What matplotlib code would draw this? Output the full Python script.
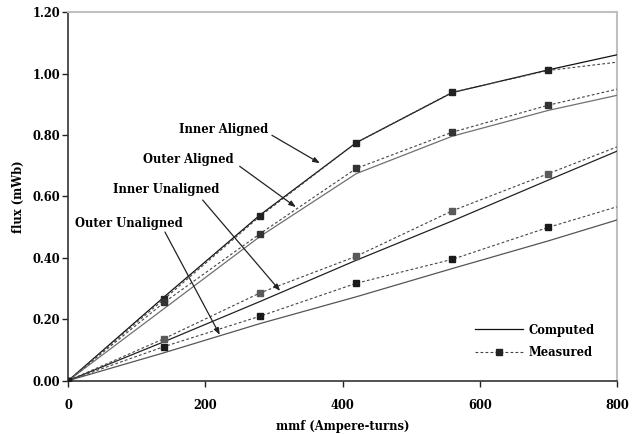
import matplotlib
matplotlib.use("Agg")
import matplotlib.pyplot as plt
from matplotlib.lines import Line2D

mmf = [0, 140, 280, 420, 560, 700, 800]
marker_mmf = [0, 140, 280, 420, 560, 700]

comp_inner_aligned = [0, 0.273, 0.540, 0.775, 0.938, 1.012, 1.061]
comp_outer_aligned = [0, 0.235, 0.470, 0.674, 0.796, 0.880, 0.929]
comp_inner_unaligned = [0, 0.127, 0.258, 0.392, 0.520, 0.653, 0.747]
comp_outer_unaligned = [0, 0.091, 0.186, 0.273, 0.365, 0.455, 0.523]

meas_inner_aligned = [0, 0.266, 0.536, 0.775, 0.939, 1.010, 1.037]
meas_outer_aligned = [0, 0.255, 0.479, 0.691, 0.809, 0.897, 0.949]
meas_inner_unaligned = [0, 0.137, 0.286, 0.405, 0.553, 0.674, 0.761]
meas_outer_unaligned = [0, 0.111, 0.210, 0.317, 0.395, 0.499, 0.566]

labels = ["Inner Aligned", "Outer Aligned", "Inner Unaligned", "Outer Unaligned"]
label_xy = [(227, 0.819), (175, 0.721), (143, 0.624), (88, 0.513)]
arrow_tip = [(367, 0.708), (332, 0.565), (309, 0.292), (221, 0.149)]
arrow_start = [(297, 0.799), (250, 0.698), (196, 0.588), (141, 0.484)]

x_ticks = [0, 200, 400, 600, 800]
y_ticks = [0.0, 0.2, 0.4, 0.6, 0.8, 1.0, 1.2]

plt.rcParams['font.family'] = ['DejaVu Serif']
plt.rcParams['font.weight'] = 'bold'
FS = 8.3

fig = plt.figure(figsize=(6.32, 4.34), dpi=100)
ax = fig.add_axes([0.108, 0.123, 0.868, 0.849])

comp = [comp_inner_aligned, comp_outer_aligned, comp_inner_unaligned, comp_outer_unaligned]
meas = [meas_inner_aligned, meas_outer_aligned, meas_inner_unaligned, meas_outer_unaligned]
comp_colors = ['#111111', '#707070', '#222222', '#555555']
mk_colors = ['#222222', '#333333', '#5a5a5a', '#1a1a1a']

for i in range(4):
    ax.plot(mmf, comp[i], '-', color=comp_colors[i], lw=0.9, zorder=3)
    ax.plot(mmf, meas[i], linestyle=(0, (2.5, 2)), color='#444444', lw=0.8, zorder=3)
    ax.plot(marker_mmf, meas[i][:len(marker_mmf)], 's', color=mk_colors[i], ms=4.6, zorder=4)

for lab, lxy, tip, st in zip(labels, label_xy, arrow_tip, arrow_start):
    ax.text(lxy[0], lxy[1], lab, ha='center', va='center', fontsize=FS, fontweight='bold')
    ax.annotate('', xy=tip, xytext=st,
                arrowprops=dict(arrowstyle='-|>,head_length=0.4,head_width=0.15',
                                color='#222222', lw=0.9, shrinkA=0, shrinkB=0))

h1 = Line2D([], [], color='#111111', lw=0.9)
h2 = Line2D([], [], color='#444444', lw=0.8, linestyle=(0, (2.5, 2)), marker='s', ms=4.6,
            markerfacecolor='#222222', markeredgecolor='#222222')
leg = ax.legend([h1, h2], ['Computed', 'Measured'], loc='upper left', frameon=False,
                bbox_to_anchor=(0.742, 0.155), fontsize=FS, handlelength=4.1,
                handletextpad=0.55, labelspacing=0.8, borderpad=0, borderaxespad=0,
                markerscale=1.0)

ax.set_xlim(0, 800)
ax.set_ylim(0, 1.2)
ax.set_xticks(x_ticks)
ax.set_xticklabels([str(v) for v in x_ticks])
ax.set_yticks(y_ticks)
ax.set_yticklabels([f"{v:.2f}" for v in y_ticks])
ax.tick_params(axis='both', direction='out', length=4, width=1, labelsize=FS, colors='#222222')
for lab in ax.get_xticklabels() + ax.get_yticklabels():
    lab.set_fontweight('bold')
    lab.set_color('black')
ax.tick_params(axis='x', pad=9)
ax.tick_params(axis='y', pad=2)

for s in ['left', 'bottom']:
    ax.spines[s].set_color('#333333')
    ax.spines[s].set_linewidth(1.2)
for s in ['top', 'right']:
    ax.spines[s].set_color('#c0c0c0')
    ax.spines[s].set_linewidth(1.5)

ax.set_xlabel('mmf (Ampere-turns)', fontsize=FS, fontweight='bold', labelpad=6)
ax.set_ylabel('flux (mWb)', fontsize=FS, fontweight='bold', labelpad=5)

fig.savefig('out.png', dpi=100)
